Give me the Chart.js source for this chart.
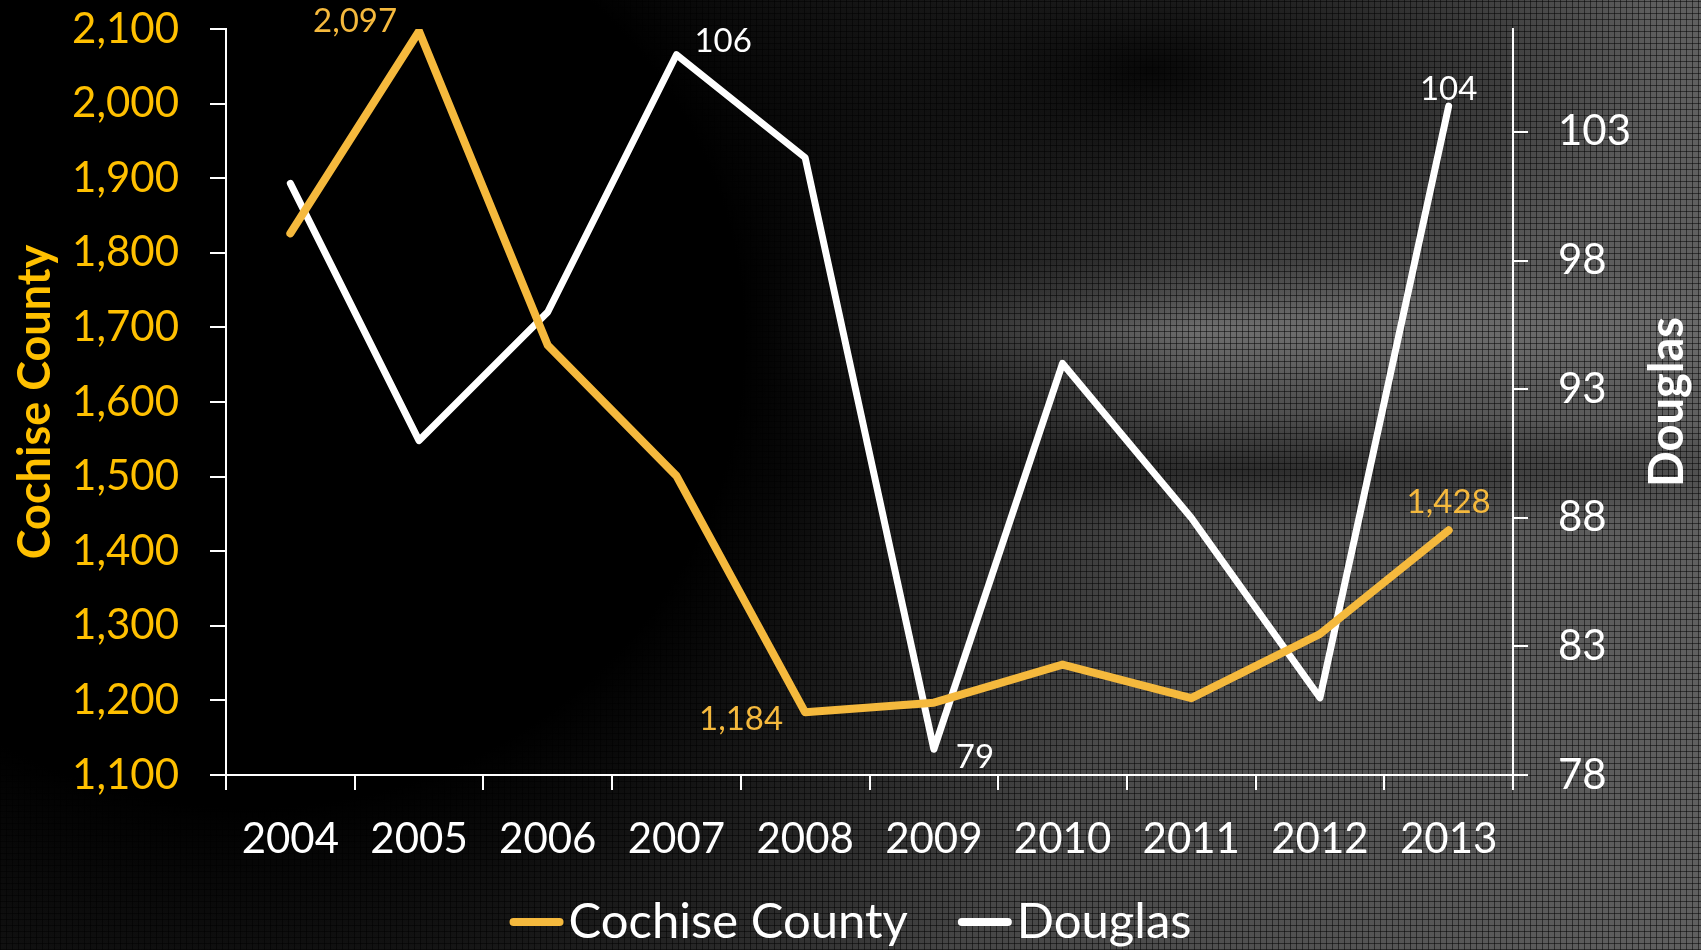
<!DOCTYPE html>
<html>
<head>
<meta charset="utf-8">
<script src="https://cdn.jsdelivr.net/npm/chart.js@4.4.1/dist/chart.umd.min.js"></script>
<style>
  html, body { margin: 0; padding: 0; background: #000; }
  #wrap {
    position: relative;
    width: 1701px;
    height: 950px;
    overflow: hidden;
    background:
      radial-gradient(ellipse 950px 900px at 250px 340px, #000 0%, #000 52%, rgba(0,0,0,0) 100%),
      radial-gradient(ellipse 520px 260px at 1150px 70px, rgba(0,0,0,0.9) 0%, rgba(0,0,0,0) 100%),
      repeating-linear-gradient(0deg, rgba(0,0,0,0.5) 0 1px, transparent 1px 6px),
      repeating-linear-gradient(90deg, rgba(0,0,0,0.5) 0 1px, transparent 1px 6px),
      radial-gradient(ellipse 900px 70px at 1150px 330px, rgba(150,150,150,0.45) 0%, rgba(0,0,0,0) 100%),
      radial-gradient(ellipse 700px 60px at 1250px 470px, rgba(0,0,0,0.45) 0%, rgba(0,0,0,0) 100%),
      linear-gradient(to right, #262626 0%, #484848 60%, #606060 100%);
  }
  canvas { position: absolute; left: 0; top: 0; }
</style>
</head>
<body>
<div id="wrap"><canvas id="chart" width="1701" height="950"></canvas></div>
<script>
const years = ['2004', '2005', '2006', '2007', '2008', '2009', '2010', '2011', '2012', '2013'];
const cochise = [1826, 2097, 1676, 1501, 1184, 1197, 1248, 1203, 1289, 1428];
const douglas = [101, 91, 96, 106, 102, 79, 94, 88, 81, 104];
const cochiseTicks = [1100, 1200, 1300, 1400, 1500, 1600, 1700, 1800, 1900, 2000, 2100];
const douglasTicks = [78, 83, 88, 93, 98, 103];

const yellow = '#f5b93d';
const tickYellow = '#ffc000';
const font = 'Lato, "Open Sans", sans-serif';

// which points carry a value label, and on which side
const cochiseLabels = [[1, 'leftUp'], [4, 'leftDown'], [9, 'upFar']];
const douglasLabels = [[3, 'rightUp'], [5, 'rightDown'], [9, 'up']];

const fmt = v => v.toLocaleString('en-US');

const extras = {
  id: 'extras',
  afterDatasetsDraw(chart) {
    const ctx = chart.ctx;
    ctx.save();
    ctx.font = '33px ' + font;
    ctx.textBaseline = 'middle';
    [[0, cochiseLabels], [1, douglasLabels]].forEach(([di, spots]) => {
      const ds = chart.data.datasets[di];
      const pts = chart.getDatasetMeta(di).data;
      ctx.fillStyle = ds.borderColor;
      spots.forEach(([i, side]) => {
        const p = pts[i];
        const t = fmt(ds.data[i]);
        if (side === 'leftUp') { ctx.textAlign = 'right'; ctx.fillText(t, p.x - 22, p.y - 10); }
        if (side === 'leftDown') { ctx.textAlign = 'right'; ctx.fillText(t, p.x - 22, p.y + 7); }
        if (side === 'rightUp') { ctx.textAlign = 'left'; ctx.fillText(t, p.x + 18, p.y - 13); }
        if (side === 'rightDown') { ctx.textAlign = 'left'; ctx.fillText(t, p.x + 22, p.y + 8); }
        if (side === 'up') { ctx.textAlign = 'center'; ctx.fillText(t, p.x, p.y - 17); }
        if (side === 'upFar') { ctx.textAlign = 'center'; ctx.fillText(t, p.x, p.y - 28); }
      });
    });
    ctx.restore();
  },
  afterDraw(chart) {
    const ctx = chart.ctx;
    const area = chart.chartArea;
    ctx.save();

    // right axis title, reading bottom to top
    ctx.font = 'bold 47px ' + font;
    ctx.fillStyle = '#ffffff';
    ctx.textAlign = 'center';
    ctx.textBaseline = 'middle';
    ctx.translate(1668, (area.top + area.bottom) / 2);
    ctx.rotate(-Math.PI / 2);
    ctx.fillText('Douglas', 0, 0);
    ctx.setTransform(1, 0, 0, 1, 0, 0);

    // legend
    ctx.font = '49px ' + font;
    const sw = 54, gap = 5, itemGap = 50;
    const items = chart.data.datasets.map(ds => ({ ds, w: ctx.measureText(ds.label).width }));
    const total = items.reduce((s, it) => s + sw + gap + it.w, 0) + itemGap * (items.length - 1);
    let x = (chart.width - total) / 2;
    const y = 922;
    items.forEach(it => {
      ctx.strokeStyle = it.ds.borderColor;
      ctx.lineWidth = 8;
      ctx.lineCap = 'round';
      ctx.beginPath();
      ctx.moveTo(x + 4, y);
      ctx.lineTo(x + sw - 4, y);
      ctx.stroke();
      ctx.fillStyle = '#ffffff';
      ctx.textAlign = 'left';
      ctx.textBaseline = 'middle';
      ctx.fillText(it.ds.label, x + sw + gap, y);
      x += sw + gap + it.w + itemGap;
    });
    ctx.restore();
  }
};

new Chart(document.getElementById('chart'), {
  type: 'line',
  data: {
    labels: years,
    datasets: [{
      label: 'Cochise County',
      data: cochise,
      yAxisID: 'y',
      borderColor: yellow,
      borderWidth: 8,
      borderCapStyle: 'round',
      borderJoinStyle: 'round',
      pointRadius: 0,
      tension: 0
    }, {
      label: 'Douglas',
      data: douglas,
      yAxisID: 'y1',
      borderColor: '#ffffff',
      borderWidth: 7,
      borderCapStyle: 'round',
      borderJoinStyle: 'round',
      pointRadius: 0,
      tension: 0
    }]
  },
  options: {
    responsive: false,
    animation: false,
    layout: { padding: { top: 29, left: 0, right: 0, bottom: 0 } },
    plugins: {
      legend: { display: false },
      tooltip: { enabled: false }
    },
    scales: {
      x: {
        offset: true,
        border: { color: '#ffffff', width: 2 },
        grid: { offset: true, drawOnChartArea: false, color: '#ffffff', lineWidth: 2, tickLength: 15 },
        ticks: { color: '#ffffff', font: { family: font, size: 42 }, padding: 24, maxRotation: 0 },
        afterFit: s => { s.height = 175; }
      },
      y: {
        position: 'left',
        min: 1100,
        max: 2100,
        border: { color: '#ffffff', width: 2 },
        grid: { drawOnChartArea: false, color: '#ffffff', lineWidth: 2, tickLength: 16 },
        ticks: { color: tickYellow, font: { family: font, size: 42 }, padding: 31, callback: v => fmt(v) },
        afterBuildTicks: s => { s.ticks = cochiseTicks.map(v => ({ value: v })); },
        title: {
          display: true,
          text: 'Cochise County',
          color: tickYellow,
          font: { family: font, size: 45, weight: 'bold' },
          padding: { top: 8, bottom: 0 }
        },
        afterFit: s => { s.width = 226; s.paddingTop = 0; s.paddingBottom = 0; }
      },
      y1: {
        position: 'right',
        min: 78,
        max: 107,
        border: { color: '#ffffff', width: 2 },
        grid: { drawOnChartArea: false, color: '#ffffff', lineWidth: 2, tickLength: 15 },
        ticks: { color: '#ffffff', font: { family: font, size: 42 }, padding: 30 },
        afterBuildTicks: s => { s.ticks = douglasTicks.map(v => ({ value: v })); },
        afterFit: s => { s.width = 188; s.paddingTop = 0; s.paddingBottom = 0; }
      }
    }
  },
  plugins: [extras]
});
</script>
</body>
</html>
